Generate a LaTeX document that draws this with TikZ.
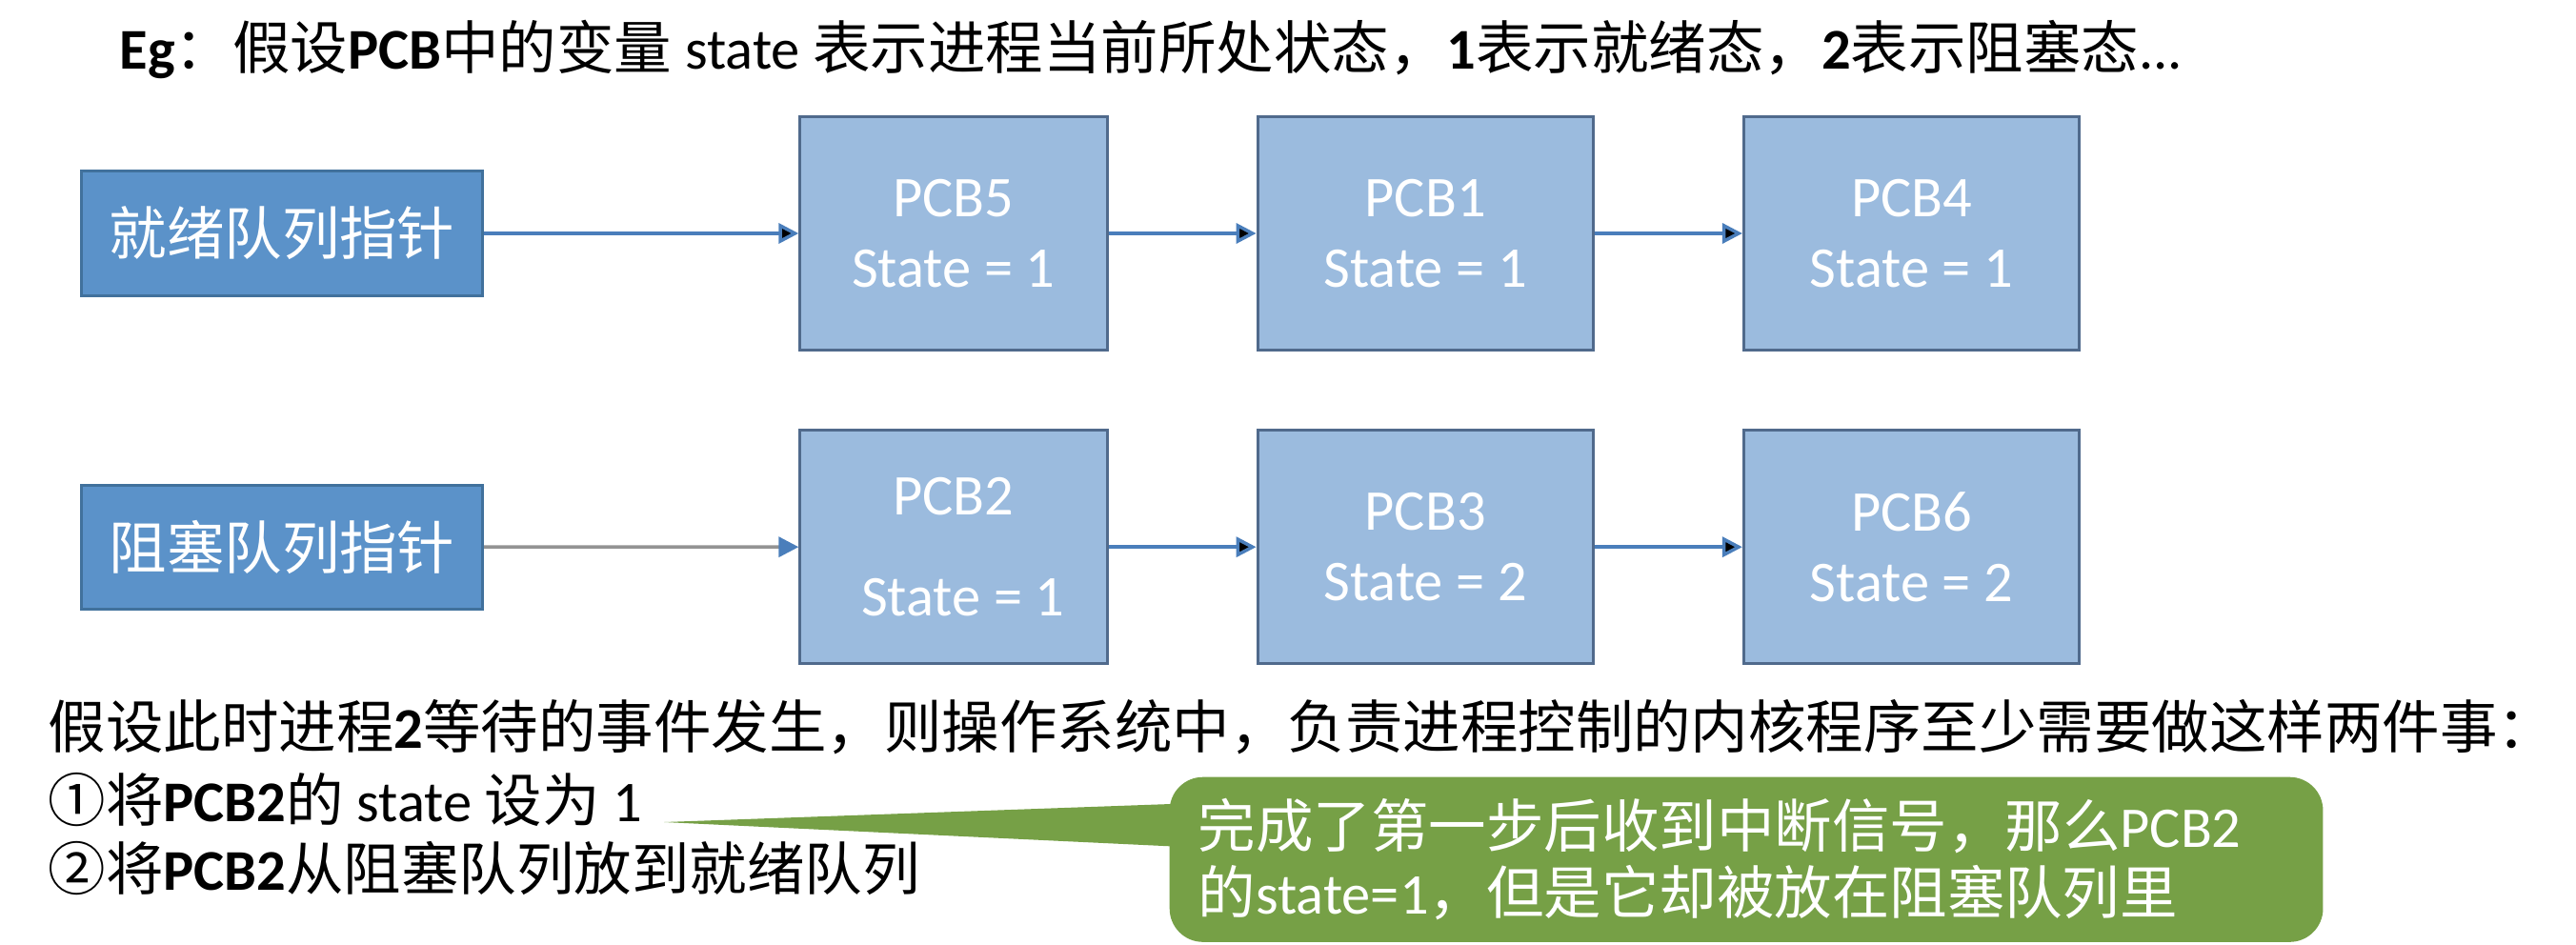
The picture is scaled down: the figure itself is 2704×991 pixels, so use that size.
\documentclass[tikz,border=0pt]{standalone}
\usepackage{fontspec}
\setmainfont{Carlito}
\newfontfamily\cjk{Noto Sans CJK SC}
\usetikzlibrary{arrows.meta, positioning}
\definecolor{ptrblue}{RGB}{91,146,201}
\definecolor{ptrline}{RGB}{65,113,156}
\definecolor{pcbblue}{RGB}{155,187,222}
\definecolor{pcbline}{RGB}{80,106,140}
\definecolor{arrowblue}{RGB}{74,126,187}
\definecolor{notegreen}{RGB}{118,160,70}
\newcommand{\zh}[1]{{\cjk #1}}

\begin{document}
\begin{tikzpicture}[x=0.01cm, y=-0.01cm, >={Triangle[length=0.21cm,width=0.21cm]}]
    \tikzstyle{ptrbox}=[rectangle, draw=ptrline, fill=ptrblue, line width=0.03cm, minimum width=4.21cm, minimum height=1.30cm, inner sep=0pt, text=white, font=\fontsize{17.2}{21}\selectfont\cjk]
    \tikzstyle{pcb}=[rectangle, draw=pcbline, fill=pcbblue, line width=0.03cm, minimum width=3.52cm, minimum height=2.45cm, inner sep=0pt, text=white, align=center, font=\fontsize{17.2}{21}\selectfont]
    \tikzstyle{linkline}=[draw=arrowblue, line width=0.035cm]
    \tikzstyle{textline}=[anchor=west, inner sep=0pt, font=\fontsize{17.2}{21}\selectfont]
    \tikzstyle{notebox}=[rectangle, rounded corners=0.35cm, fill=notegreen, text=white, text width=11.5cm, inner xsep=0.3cm, minimum height=1.73cm, align=left, font=\fontsize{17.2}{19.9}\selectfont]

    \fill[white] (0,0) rectangle (2704,991);
    \useasboundingbox (0,0) rectangle (2704,991);

    % heading
    \node[anchor=west, inner sep=0pt, font=\fontsize{17.2}{21}\selectfont] (title) at (125,52)
        {\textbf{Eg}\zh{：假设}\textbf{PCB}\zh{中的变量} state \zh{表示进程当前所处状态，}\textbf{1}\zh{表示就绪态，}\textbf{2}\zh{表示阻塞态}...};

    % ready queue
    \node[ptrbox] (ready) at (296,245) {就绪队列指针};
    \node[pcb, minimum width=3.22cm, right=3.3cm of ready] (pcb5) {PCB5\\State = 1};
    \node[pcb, right=1.55cm of pcb5] (pcb1) {PCB1\\State = 1};
    \node[pcb, right=1.55cm of pcb1] (pcb4) {PCB4\\State = 1};

    % blocked queue
    \node[ptrbox, below=1.96cm of ready] (blocked) {阻塞队列指针};
    \node[pcb, minimum width=3.22cm, below=0.81cm of pcb5] (pcb2) {PCB2\\[0.32cm]\hspace*{0.2cm}State = 1};
    \node[pcb, right=1.55cm of pcb2] (pcb3) {PCB3\\State = 2};
    \node[pcb, right=1.55cm of pcb3] (pcb6) {PCB6\\State = 2};

    \path[->, linkline]
    (ready) edge (pcb5)
    (pcb5) edge (pcb1)
    (pcb1) edge (pcb4)
    (pcb2) edge (pcb3)
    (pcb3) edge (pcb6)
    ;
    \path[linkline] (blocked) edge[draw=gray!85, -{Triangle[length=0.21cm,width=0.21cm,color=arrowblue]}] (pcb2);

    % the two steps
    \node[textline] (event) at (50,763)
        {\zh{假设此时进程}\textbf{2}\zh{等待的事件发生，则操作系统中，负责进程控制的内核程序至少需要做这样两件事：}};
    \node[textline] (stepone) at (50,840) {\zh{①将}\textbf{PCB2}\zh{的} state \zh{设为} 1};
    \node[textline] (steptwo) at (50,911) {\zh{②将}\textbf{PCB2}\zh{从阻塞队列放到就绪队列}};

    % callout
    \node[notebox, anchor=north west] (note) at (1227,815)
        {\zh{完成了第一步后收到中断信号，那么}PCB2\\\zh{的}state=1\zh{，但是它却被放在阻塞队列里}};
    \coordinate (tip) at (697,863);
    \fill[notegreen] (tip) -- ([yshift=0.585cm, xshift=0.1cm]note.west) -- ([yshift=0.135cm, xshift=0.1cm]note.west) -- cycle;
\end{tikzpicture}
\end{document}
